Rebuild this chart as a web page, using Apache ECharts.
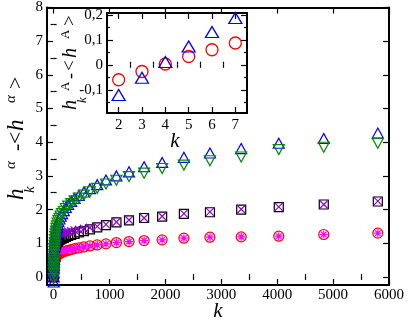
<!DOCTYPE html>
<html>
<head>
<meta charset="utf-8">
<script src="https://cdn.jsdelivr.net/npm/echarts@6/dist/echarts.min.js"></script>
<style>
  html, body { margin: 0; padding: 0; background: #fff; }
  #chart { width: 407px; height: 320px; }
</style>
</head>
<body>
<div id="chart"></div>
<script>
// k values (x) shared by every series of the main plot
const kValues = [2, 3, 4, 5, 6, 7, 8, 10, 12, 14, 17, 20, 24, 29, 35, 42, 51, 61, 73, 87, 105, 126, 151, 182, 218, 261, 314, 376, 452, 542, 650, 781, 937, 1124, 1349, 1619, 1942, 2331, 2797, 3356, 4028, 4833, 5800]

const blueUp = [-0.15, 0.0, 0.12, 0.25, 0.35, 0.45, 0.52, 0.63, 0.72, 0.8, 0.9, 0.98, 1.07, 1.15, 1.23, 1.31, 1.4, 1.48, 1.56, 1.64, 1.72, 1.8, 1.88, 1.97, 2.06, 2.15, 2.24, 2.33, 2.42, 2.52, 2.62, 2.74, 2.88, 3.0, 3.12, 3.27, 3.4, 3.55, 3.68, 3.81, 3.97, 4.11, 4.27]
const greenDown = [-0.05, 0.1, 0.2, 0.3, 0.4, 0.48, 0.55, 0.66, 0.76, 0.84, 0.94, 1.02, 1.11, 1.2, 1.28, 1.36, 1.44, 1.52, 1.6, 1.67, 1.74, 1.81, 1.88, 1.95, 2.03, 2.1, 2.18, 2.26, 2.34, 2.43, 2.53, 2.63, 2.76, 2.87, 2.98, 3.08, 3.22, 3.32, 3.45, 3.56, 3.78, 3.85, 3.97]
const blackSquare = [0.0, 0.1, 0.2, 0.3, 0.38, 0.45, 0.52, 0.6, 0.67, 0.72, 0.78, 0.83, 0.87, 0.91, 0.94, 0.97, 1.0, 1.03, 1.05, 1.08, 1.1, 1.12, 1.14, 1.16, 1.19, 1.22, 1.25, 1.28, 1.32, 1.36, 1.41, 1.47, 1.54, 1.62, 1.68, 1.75, 1.79, 1.87, 1.92, 2.0, 2.07, 2.15, 2.24]
const purpleCross = [0.1, 0.25, 0.4, 0.5, 0.6, 0.68, 0.75, 0.85, 0.93, 1.0, 1.06, 1.1, 1.14, 1.18, 1.21, 1.23, 1.25, 1.27, 1.28, 1.29, 1.3, 1.3, 1.31, 1.32, 1.33, 1.34, 1.36, 1.38, 1.4, 1.43, 1.46, 1.5, 1.56, 1.63, 1.69, 1.75, 1.8, 1.88, 1.93, 2.01, 2.08, 2.15, 2.25]
const redCircle = [0.0, 0.05, 0.1, 0.14, 0.18, 0.22, 0.25, 0.3, 0.34, 0.38, 0.42, 0.45, 0.49, 0.52, 0.55, 0.58, 0.61, 0.63, 0.65, 0.67, 0.69, 0.71, 0.73, 0.75, 0.77, 0.79, 0.81, 0.84, 0.86, 0.89, 0.92, 0.95, 0.98, 1.02, 1.05, 1.08, 1.1, 1.15, 1.18, 1.19, 1.21, 1.26, 1.3]
const magentaStar = [0.1, 0.25, 0.35, 0.43, 0.5, 0.55, 0.59, 0.63, 0.66, 0.68, 0.7, 0.71, 0.72, 0.73, 0.74, 0.74, 0.75, 0.75, 0.76, 0.77, 0.77, 0.78, 0.78, 0.79, 0.8, 0.81, 0.82, 0.84, 0.86, 0.89, 0.92, 0.95, 0.98, 1.02, 1.05, 1.08, 1.1, 1.15, 1.18, 1.19, 1.21, 1.26, 1.3]

// inset
const insetK = [2, 3, 4, 5, 6, 7]
const insetCircle = [-0.06, -0.027, 0.003, 0.033, 0.06, 0.087]
const insetTriangle = [-0.121, -0.052, 0.011, 0.073, 0.131, 0.187]

// tick labels
const xMajor = [0, 1000, 2000, 3000, 4000, 5000, 6000]
const xMinor = [500, 1500, 2500, 3500, 4500, 5500]
const yMajor = [0, 1, 2, 3, 4, 5, 6, 7, 8]
const yMinor = [0.5, 1.5, 2.5, 3.5, 4.5, 5.5, 6.5, 7.5]
const insetXMajor = [2, 3, 4, 5, 6, 7]
const insetXMinor = [2.5, 3.5, 4.5, 5.5, 6.5]
const insetYMajor = [-0.1, 0, 0.1, 0.2]
const insetYMinor = [-0.15, -0.05, 0.05, 0.15]

const FONT = 'Liberation Serif'
const chart = echarts.init(document.getElementById('chart'))

// four axes per dimension: labelled side (major + minor ticks) and mirrored side
function makeAxes(grid, min, max, major, minor, pos, opp, label) {
  const base = { type: 'value', gridIndex: grid, min: min, max: max, splitLine: { show: false } }
  const line = { show: true, onZero: false, lineStyle: { color: '#000', width: 2 } }
  const tick = (vals, len) => ({ inside: true, length: len, customValues: vals, lineStyle: { color: '#000', width: 1.2 } })
  return [
    Object.assign({}, base, { position: pos, axisLine: line, axisTick: tick(major, 6), axisLabel: Object.assign({ customValues: major }, label) }),
    Object.assign({}, base, { position: pos, axisLine: { show: false }, axisTick: tick(minor, 3), axisLabel: { show: false } }),
    Object.assign({}, base, { position: opp, axisLine: line, axisTick: tick(major, 6), axisLabel: { show: false } }),
    Object.assign({}, base, { position: opp, axisLine: { show: false }, axisTick: tick(minor, 3), axisLabel: { show: false } })
  ]
}

const labelStyle = { color: '#000', fontFamily: FONT, fontSize: 15 }
const plainFmt = v => String(v)
const commaFmt = v => (Math.abs(v) < 1e-9 ? '0' : String(Math.round(v * 10) / 10).replace('.', ','))

const xAxes = makeAxes(0, -118, 6000, xMajor, xMinor, 'bottom', 'top', Object.assign({ margin: 3, formatter: plainFmt }, labelStyle))
  .concat(makeAxes(1, 1.5, 7.5, insetXMajor, insetXMinor, 'bottom', 'top', Object.assign({ margin: 5, formatter: plainFmt }, labelStyle)))
const yAxes = makeAxes(0, -0.24, 8, yMajor, yMinor, 'left', 'right', Object.assign({ margin: 4, formatter: plainFmt }, labelStyle))
  .concat(makeAxes(1, -0.193, 0.207, insetYMajor, insetYMinor, 'left', 'right', Object.assign({ margin: 4, formatter: commaFmt }, labelStyle)))

const crossPath = 'path://M0,0L10,10M10,0L0,10'
const starPath = 'path://M5,0L5,10M0,5L10,5M1.5,1.5L8.5,8.5M8.5,1.5L1.5,8.5'

function scatter(vals, color, symbol, size, opts) {
  return Object.assign({
    type: 'scatter',
    xAxisIndex: 0,
    yAxisIndex: 0,
    symbol: symbol,
    symbolSize: size,
    data: kValues.map((k, i) => [k, vals[i]]),
    itemStyle: { color: 'transparent', borderColor: color, borderWidth: 1.2, opacity: 1 },
    emphasis: { disabled: true },
    silent: true
  }, opts || {})
}

function insetScatter(vals, color, symbol, size) {
  return {
    type: 'scatter',
    xAxisIndex: 4,
    yAxisIndex: 4,
    symbol: symbol,
    symbolSize: size,
    data: insetK.map((k, i) => [k, vals[i]]),
    itemStyle: { color: 'transparent', borderColor: color, borderWidth: 1.3, opacity: 1 },
    silent: true
  }
}

// rotated y-axis titles built from pieces (sub/superscripts stacked like the original)
function rotatedTitle(parts) {
  return {
    type: 'group',
    x: 0,
    y: 0,
    rotation: Math.PI / 2,
    children: parts.map(p => ({
      type: 'text',
      x: -p[1],
      y: p[2],
      style: {
        text: p[0],
        fontFamily: FONT,
        fontSize: p[3],
        fontStyle: p[4] ? 'italic' : 'normal',
        fill: '#000',
        align: 'left',
        verticalAlign: 'middle'
      }
    }))
  }
}

// [text, screen y where glyph starts (bottom), screen x centre, size, italic]
const mainTitle = rotatedTitle([
  ['h', 200, 16.5, 23, true],
  ['k', 193, 30, 15, true],
  ['α', 169, 11, 15, true],
  ['-', 151, 17, 22, false],
  ['<', 144, 16.5, 22, false],
  ['h', 131, 16.5, 23, true],
  ['α', 103, 11, 15, true],
  ['>', 89, 16.5, 22, false]
])
const insetTitle = rotatedTitle([
  ['h', 110, 70.5, 20, true],
  ['k', 103, 82.5, 13, true],
  ['A', 91, 66, 13, false],
  ['-', 79, 71, 18, false],
  ['<', 71, 70.5, 19, false],
  ['h', 58, 70.5, 20, true],
  ['A', 39, 66, 13, false],
  ['>', 26, 70.5, 19, false]
])

chart.setOption({
  animation: false,
  backgroundColor: '#fff',
  grid: [
    { left: 47, top: 6, right: 16, bottom: 35 },
    { left: 107, top: 13, width: 140, height: 100, show: true, backgroundColor: '#fff', borderWidth: 0 }
  ],
  xAxis: xAxes,
  yAxis: yAxes,
  graphic: [
    { type: 'text', x: 218, y: 311, style: { text: 'k', fontFamily: FONT, fontSize: 21, fontStyle: 'italic', fill: '#000', align: 'center', verticalAlign: 'middle' } },
    { type: 'text', x: 175, y: 141, style: { text: 'k', fontFamily: FONT, fontSize: 21, fontStyle: 'italic', fill: '#000', align: 'center', verticalAlign: 'middle' } },
    mainTitle,
    insetTitle
  ],
  series: [
    scatter(redCircle, '#ff0000', 'circle', 10),
    scatter(magentaStar, '#ff00ff', starPath, 8),
    scatter(blackSquare, '#000000', 'rect', 9),
    scatter(purpleCross, '#9400d3', crossPath, 8),
    scatter(blueUp, '#0000ff', 'triangle', [11, 10]),
    scatter(greenDown, '#008b00', 'triangle', [11, 10], { symbolRotate: 180 }),
    insetScatter(insetCircle, '#ff0000', 'circle', 12),
    insetScatter(insetTriangle, '#0000ff', 'triangle', [13, 11])
  ]
})
</script>
</body>
</html>
